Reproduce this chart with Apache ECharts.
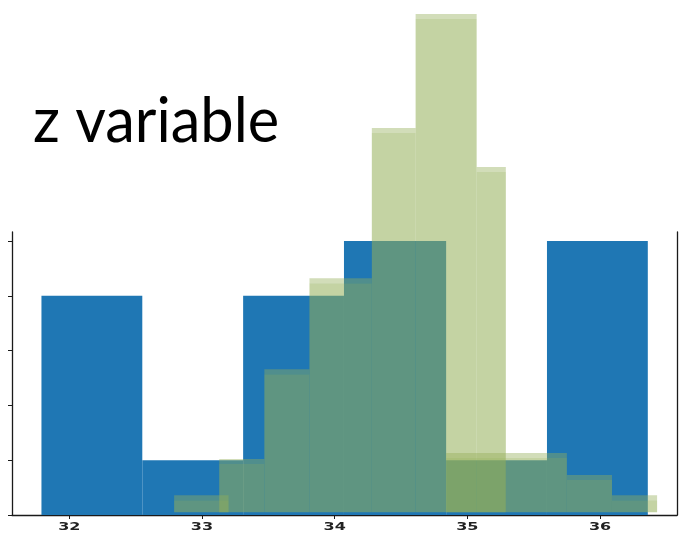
<!DOCTYPE html>
<html>
<head>
<meta charset="utf-8">
<script src="https://cdn.jsdelivr.net/npm/echarts@6/dist/echarts.min.js"></script>
<style>
  html, body { margin: 0; padding: 0; background: #fff; }
  #chart { width: 680px; height: 534px; }
</style>
</head>
<body>
<div id="chart"></div>
<script>
// Blue histogram: bin edges and counts
const blueEdges = [31.79, 32.55, 33.31, 34.07, 34.84, 35.60, 36.36];
const blueCounts = [4, 1, 4, 5, 1, 5];

// Translucent green histogram overlay: bar spans and heights
const greenLeft    = [32.79, 33.13, 33.47, 33.81, 34.28, 34.61, 35.07, 34.84, 35.29, 35.75, 36.09];
const greenRight   = [33.20, 33.47, 33.81, 34.28, 34.61, 35.07, 35.29, 35.29, 35.75, 36.09, 36.43];
const greenHeights = [0.36, 1.02, 2.66, 4.32, 7.06, 9.14, 6.35, 1.13, 1.13, 0.73, 0.36];

// Axis ticks and title
const xTicks = [32, 33, 34, 35, 36];
const yTicks = [0, 1, 2, 3, 4, 5];
const titleText = 'z variable';

const BLUE = '#1f77b4';
const GREEN_BODY = 'rgba(148,174,88,0.55)';
const GREEN_TOP = 'rgba(148,174,88,0.42)';
const GREEN_FLOOR = 0.05;
const AXIS_COLOR = '#1a1a1a';

const blueData = blueCounts.map((c, i) => [blueEdges[i], blueEdges[i + 1], c]);
const greenData = greenHeights.map((h, i) => [greenLeft[i], greenRight[i], h]);

const chart = echarts.init(document.getElementById('chart'), null, { renderer: 'canvas' });

const X_MIN = 31.568, X_MAX = 36.58, Y_MAX = 5.164;

chart.setOption({
  animation: false,
  backgroundColor: '#fff',
  grid: { left: 12, right: 3, top: 232, bottom: 19, containLabel: false },
  xAxis: {
    type: 'value',
    min: X_MIN,
    max: X_MAX,
    axisLine: { show: true, onZero: false, lineStyle: { color: AXIS_COLOR, width: 1.3 } },
    axisTick: { show: true, customValues: xTicks, length: 4, lineStyle: { color: AXIS_COLOR, width: 1 } },
    axisLabel: { show: false },
    splitLine: { show: false }
  },
  yAxis: [
    {
      type: 'value',
      min: 0,
      max: Y_MAX,
      axisLine: { show: true, onZero: false, lineStyle: { color: AXIS_COLOR, width: 1.3 } },
      axisTick: { show: true, customValues: yTicks, length: 4, lineStyle: { color: AXIS_COLOR, width: 1 } },
      axisLabel: { show: false },
      splitLine: { show: false }
    },
    {
      type: 'value',
      position: 'right',
      min: 0,
      max: Y_MAX,
      axisLine: { show: true, onZero: false, lineStyle: { color: AXIS_COLOR, width: 1.3 } },
      axisTick: { show: false },
      axisLabel: { show: false },
      splitLine: { show: false }
    }
  ],
  series: [
    {
      type: 'custom',
      name: 'blue',
      clip: false,
      encode: { x: [0, 1], y: 2 },
      data: blueData,
      renderItem: function (params, api) {
        const p0 = api.coord([api.value(0), api.value(2)]);
        const p1 = api.coord([api.value(1), 0]);
        return {
          type: 'rect',
          shape: { x: p0[0], y: p0[1], width: p1[0] - p0[0], height: p1[1] - p0[1] },
          style: { fill: BLUE }
        };
      }
    },
    {
      type: 'custom',
      name: 'green',
      clip: false,
      encode: { x: [0, 1], y: 2 },
      data: greenData,
      renderItem: function (params, api) {
        const top = api.coord([api.value(0), api.value(2)]);
        const base = api.coord([api.value(1), GREEN_FLOOR]);
        const band = 5;
        const w = base[0] - top[0];
        return {
          type: 'group',
          children: [
            {
              type: 'rect',
              shape: { x: top[0], y: top[1] + band, width: w, height: base[1] - top[1] - band },
              style: { fill: GREEN_BODY }
            },
            {
              type: 'rect',
              shape: { x: top[0], y: top[1], width: w, height: band },
              style: { fill: GREEN_TOP }
            }
          ]
        };
      }
    }
  ]
});

// Title and tick labels (tick labels are horizontally stretched)
const baseY = chart.convertToPixel({ yAxisIndex: 0 }, 0);
const graphics = [{
  type: 'text',
  x: 33,
  y: 91,
  scaleX: 0.96,
  style: {
    text: titleText,
    fontFamily: 'Lato',
    fontSize: 62,
    fill: '#000',
    align: 'left',
    verticalAlign: 'top'
  }
}].concat(xTicks.map(v => ({
  type: 'text',
  x: chart.convertToPixel({ xAxisIndex: 0 }, v),
  y: baseY + 12,
  scaleX: 1.6,
  style: {
    text: String(v),
    fontFamily: 'DejaVu Sans',
    fontSize: 10,
    fontWeight: 'bold',
    fill: '#222',
    align: 'center',
    verticalAlign: 'middle'
  }
})));
chart.setOption({ graphic: graphics });
</script>
</body>
</html>
